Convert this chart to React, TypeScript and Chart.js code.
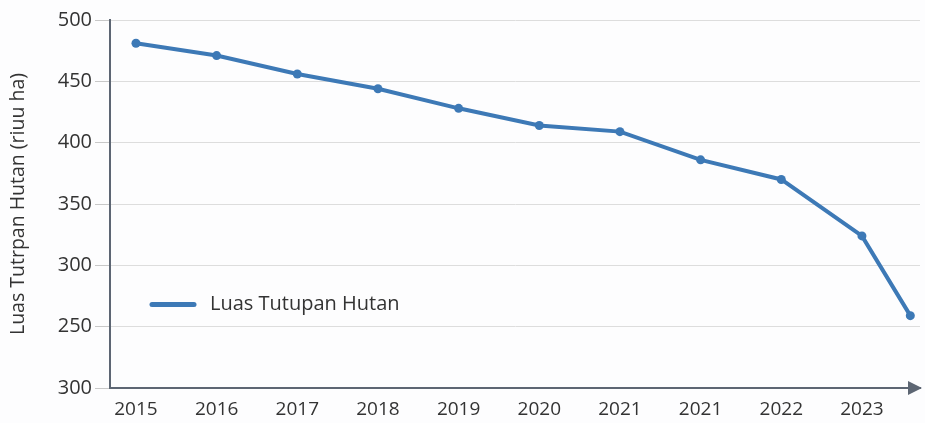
import React, { useEffect, useRef } from "react";
import { Chart, registerables } from "chart.js";

Chart.register(...registerables);

const xLabels = ["2015", "2016", "2017", "2018", "2019", "2020", "2021", "2021", "2022", "2023"];
const xPositions = [0, 1, 2, 3, 4, 5, 6, 7, 8, 9, 9.6];
const forestArea = [481, 471, 456, 444, 428, 414, 409, 386, 370, 324, 259];
const yTickLabels = ["300", "250", "300", "350", "400", "450", "500"];
const seriesName = "Luas Tutupan Hutan";
const yTitle = "Luas Tutrpan Hutan (riuu ha)";

const LINE = "#3d79b6";
const AXIS = "#5d6673";
const TEXT = "#333333";
const FONT = "'Open Sans', 'Noto Sans', sans-serif";

const overlayPlugin = {
  id: "overlay",
  afterDraw(chart: any) {
    const { ctx, chartArea } = chart;
    ctx.save();
    // x-axis arrow
    const y = chartArea.bottom;
    ctx.fillStyle = AXIS;
    ctx.beginPath();
    ctx.moveTo(chartArea.right + 2, y);
    ctx.lineTo(chartArea.right - 12, y - 7);
    ctx.lineTo(chartArea.right - 12, y + 7);
    ctx.closePath();
    ctx.fill();
    // legend
    const ly = chart.scales.y.getPixelForValue(268);
    ctx.strokeStyle = LINE;
    ctx.lineWidth = 5;
    ctx.lineCap = "round";
    ctx.beginPath();
    ctx.moveTo(152, ly);
    ctx.lineTo(194, ly);
    ctx.stroke();
    ctx.fillStyle = TEXT;
    ctx.font = `20px ${FONT}`;
    ctx.textBaseline = "middle";
    ctx.fillText(seriesName, 210, ly);
    ctx.restore();
  },
};

export default function App() {
  const ref = useRef<HTMLCanvasElement>(null);
  useEffect(() => {
    if (!ref.current) return;
    const chart = new Chart(ref.current, {
      type: "line",
      data: {
        datasets: [
          {
            label: seriesName,
            data: xPositions.map((x, i) => ({ x, y: forestArea[i] })),
            borderColor: LINE,
            backgroundColor: LINE,
            borderWidth: 4,
            pointRadius: 4.5,
            pointBackgroundColor: LINE,
            pointBorderWidth: 0,
            tension: 0,
          },
        ],
      },
      options: {
        responsive: false,
        animation: false,
        layout: { padding: { top: 20, right: 5, left: 0, bottom: 0 } },
        plugins: { legend: { display: false }, tooltip: { enabled: false } },
        scales: {
          x: {
            type: "linear",
            min: -0.322,
            max: 9.72,
            afterBuildTicks: (scale: any) => {
              scale.ticks = xLabels.map((_, i) => ({ value: i }));
            },
            afterFit: (scale: any) => {
              scale.height = 35;
            },
            ticks: {
              callback: (_v: any, i: number) => xLabels[i],
              color: TEXT,
              font: { family: FONT, size: 19 },
              padding: 10,
              maxRotation: 0,
              autoSkip: false,
            },
            grid: { display: false, drawTicks: false },
            border: { display: true, color: AXIS, width: 2 },
          },
          y: {
            min: 200,
            max: 500,
            afterBuildTicks: (scale: any) => {
              scale.ticks = yTickLabels.map((_, i) => ({ value: 200 + i * 50 }));
            },
            afterFit: (scale: any) => {
              scale.width = 110;
            },
            ticks: {
              callback: (_v: any, i: number) => yTickLabels[i],
              color: TEXT,
              font: { family: FONT, size: 20 },
              padding: 3,
            },
            grid: {
              color: "#dddddd",
              lineWidth: 1,
              tickLength: 15,
              tickColor: "#c8c8c8",
            },
            border: { display: true, color: AXIS, width: 2 },
            title: {
              display: true,
              text: yTitle,
              color: TEXT,
              font: { family: FONT, size: 19.5 },
              padding: { top: 7, bottom: 0 },
            },
          },
        },
      },
      plugins: [overlayPlugin],
    });
    return () => chart.destroy();
  }, []);
  return (
    <div style={{ position: "fixed", left: 0, top: 0, width: 925, height: 423, background: "#fdfdfe" }}>
      <canvas ref={ref} width={925} height={423} />
    </div>
  );
}
